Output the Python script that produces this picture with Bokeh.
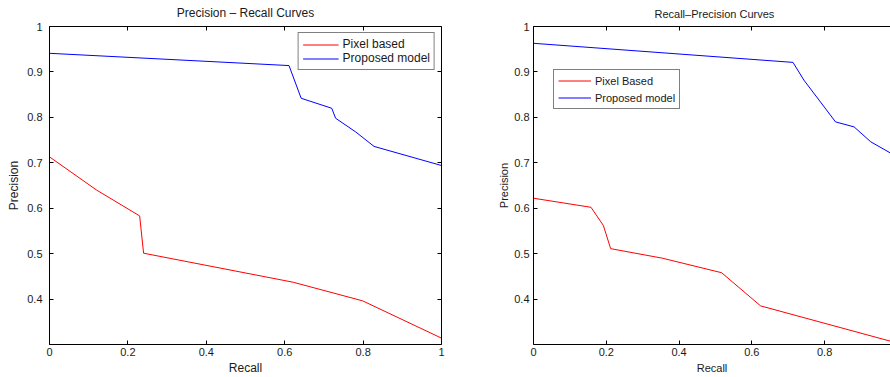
from bokeh.plotting import figure
from bokeh.models import Range1d, LinearAxis, FixedTicker, Legend, LegendItem, CustomLabelingPolicy
from bokeh.layouts import row
from bokeh.embed import file_html
from bokeh.resources import INLINE

# ---- data ----
left_pixel_recall = [0.0, 0.12, 0.230, 0.240, 0.622, 0.799, 1.0]
left_pixel_precision = [0.713, 0.640, 0.583, 0.501, 0.437, 0.396, 0.314]
left_model_recall = [0.0, 0.611, 0.642, 0.720, 0.730, 0.781, 0.828, 1.0]
left_model_precision = [0.941, 0.914, 0.842, 0.820, 0.798, 0.768, 0.736, 0.694]

right_pixel_recall = [0.0, 0.158, 0.192, 0.212, 0.354, 0.517, 0.624, 0.982]
right_pixel_precision = [0.622, 0.602, 0.562, 0.511, 0.490, 0.458, 0.385, 0.307]
right_model_recall = [0.0, 0.713, 0.743, 0.830, 0.881, 0.927, 0.982]
right_model_precision = [0.963, 0.921, 0.882, 0.790, 0.779, 0.746, 0.721]

x_ticks = [0, 0.2, 0.4, 0.6, 0.8, 1]
x_tick_labels = ["0", "0.2", "0.4", "0.6", "0.8", "1"]
y_ticks = [0.4, 0.5, 0.6, 0.7, 0.8, 0.9, 1.0]
y_tick_labels = ["0.4", "0.5", "0.6", "0.7", "0.8", "0.9", "1"]

FONT = "Liberation Sans"
TXT = "#1a1a1a"


def style_axis(ax, ticks, labels, show, size="11px", standoff=5, label_size="12px"):
    ax.ticker = FixedTicker(ticks=ticks)
    ax.major_label_overrides = {t: l for t, l in zip(ticks, labels)}
    ax.major_tick_in = 4
    ax.major_tick_out = 0
    ax.minor_tick_in = 0
    ax.minor_tick_out = 0
    ax.axis_line_color = "black"
    ax.axis_line_width = 1
    ax.major_tick_line_color = "black"
    ax.major_label_text_font = FONT
    ax.major_label_text_color = TXT
    ax.axis_label_text_font = FONT
    ax.axis_label_text_font_style = "normal"
    ax.axis_label_text_font_size = label_size
    ax.axis_label_text_color = TXT
    if show:
        ax.major_label_text_font_size = size
        ax.major_label_standoff = standoff
    else:
        ax.major_label_text_font_size = "1px"
        ax.major_label_standoff = 0
        ax.major_label_policy = CustomLabelingPolicy(code="return []")


def make_fig(title, x_end, border_left, border_right, title_size):
    p = figure(width=445, height=377, output_backend="svg", toolbar_location=None,
               x_range=Range1d(0, x_end), y_range=Range1d(0.3, 1.0),
               min_border_left=border_left, min_border_right=border_right,
               min_border_top=25, min_border_bottom=33,
               x_axis_label="Recall", y_axis_label="Precision")
    p.title.text = title
    p.title.text_font = FONT
    p.title.text_font_size = title_size
    p.title.text_font_style = "normal"
    p.title.text_color = TXT
    p.title.standoff = 6
    p.xgrid.visible = False
    p.ygrid.visible = False
    p.outline_line_color = None
    p.background_fill_color = "white"
    p.border_fill_color = "white"
    return p


# ---- left chart ----
p1 = make_fig("Precision \u2013 Recall Curves", 1.0, 49, 3, "12px")
p1.title.align = "center"
style_axis(p1.xaxis[0], x_ticks, x_tick_labels, True, standoff=3)
style_axis(p1.yaxis[0], y_ticks, y_tick_labels, True, standoff=7)
p1.xaxis[0].axis_label_standoff = 2
p1.yaxis[0].axis_label_standoff = 3
top1 = LinearAxis()
style_axis(top1, x_ticks, x_tick_labels, False)
right1 = LinearAxis()
style_axis(right1, y_ticks, y_tick_labels, False)
p1.add_layout(top1, "above")
p1.add_layout(right1, "right")

r1a = p1.line(left_pixel_recall, left_pixel_precision, line_color="#ff0000", line_width=1)
r1b = p1.line(left_model_recall, left_model_precision, line_color="#0000ff", line_width=1)
leg1 = Legend(items=[LegendItem(label="Pixel based", renderers=[r1a]),
                     LegendItem(label="Proposed model", renderers=[r1b])],
              location="top_right", margin=6, padding=4, spacing=0,
              glyph_width=36, glyph_height=13, label_height=13, label_standoff=4,
              label_text_font=FONT, label_text_font_size="12px", label_text_color=TXT,
              border_line_color="black", border_line_width=1,
              background_fill_color="white", background_fill_alpha=1.0)
p1.add_layout(leg1)

# ---- right chart (cut at the window edge) ----
p2 = make_fig("Recall\u2013Precision Curves", 0.981, 88, 0, "11px")
p2.title.align = "left"
p2.title.offset = 121
style_axis(p2.xaxis[0], x_ticks, x_tick_labels, True, standoff=3, label_size="11px")
style_axis(p2.yaxis[0], y_ticks, y_tick_labels, True, standoff=4, label_size="11px")
p2.xaxis[0].axis_label_standoff = 3
p2.yaxis[0].axis_label_standoff = 1
top2 = LinearAxis()
style_axis(top2, x_ticks, x_tick_labels, False)
p2.add_layout(top2, "above")

r2a = p2.line(right_pixel_recall, right_pixel_precision, line_color="#ff0000", line_width=1)
r2b = p2.line(right_model_recall, right_model_precision, line_color="#0000ff", line_width=1)
leg2 = Legend(items=[LegendItem(label="Pixel Based", renderers=[r2a]),
                     LegendItem(label="Proposed model", renderers=[r2b])],
              location=(20, 235), margin=0, padding=4, spacing=4,
              glyph_width=33, glyph_height=13, label_height=13, label_standoff=4,
              label_text_font=FONT, label_text_font_size="11px", label_text_color=TXT,
              border_line_color="black", border_line_width=1,
              background_fill_color="white", background_fill_alpha=1.0)
p2.add_layout(leg2)

layout = row(p1, p2, spacing=0)
open("out.html", "w").write(file_html(layout, INLINE))
